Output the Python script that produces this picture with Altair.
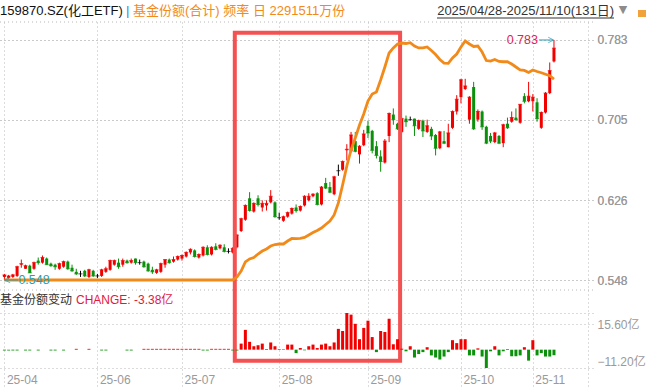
import altair as alt
import pandas as pd

# ---------------- text ----------------
STOCK = "159870.SZ(化工ETF)"
SERIES_TITLE = "基金份额(合计) 频率 日 2291511万份"
DATE_RANGE = "2025/04/28-2025/11/10(131日)"
CHANGE_TITLE = "基金份额变动"
CHANGE_TEXT = "CHANGE: -3.38亿"

# ---------------- data ----------------
opens = [0.551,0.550,0.551,0.552,0.563,0.559,0.562,0.559,0.567,0.565,
0.569,0.564,0.563,0.559,0.561,0.566,0.560,0.556,0.554,0.557,
0.551,0.557,0.552,0.552,0.556,0.558,0.563,0.565,0.563,0.567,
0.565,0.569,0.565,0.566,0.564,0.558,0.555,0.556,0.563,0.568,
0.566,0.568,0.569,0.571,0.575,0.577,0.570,0.572,0.580,0.573,
0.581,0.579,0.580,0.576,0.575,0.580,0.596,0.607,0.628,0.615,
0.628,0.619,0.621,0.624,0.624,0.609,0.606,0.610,0.613,0.619,
0.616,0.621,0.626,0.630,0.633,0.622,0.643,0.639,0.632,0.655,
0.656,0.675,0.674,0.684,0.671,0.680,0.699,0.694,0.679,0.669,
0.663,0.689,0.710,0.701,0.693,0.706,0.705,0.706,0.696,0.704,
0.693,0.696,0.690,0.677,0.684,0.678,0.697,0.713,0.727,0.735,
0.705,0.737,0.705,0.713,0.698,0.689,0.683,0.689,0.682,0.701,
0.703,0.707,0.702,0.728,0.723,0.723,0.722,0.697,0.712,0.731,
0.762]
highs = [0.554,0.553,0.554,0.562,0.568,0.563,0.563,0.566,0.570,0.572,
0.570,0.565,0.564,0.565,0.567,0.567,0.563,0.559,0.557,0.558,
0.559,0.558,0.554,0.559,0.561,0.568,0.568,0.569,0.569,0.568,
0.569,0.569,0.568,0.567,0.565,0.561,0.559,0.565,0.568,0.569,
0.571,0.572,0.573,0.576,0.579,0.578,0.574,0.581,0.582,0.581,
0.584,0.583,0.583,0.579,0.580,0.593,0.609,0.622,0.634,0.624,
0.631,0.626,0.626,0.636,0.625,0.614,0.611,0.615,0.619,0.622,
0.621,0.631,0.633,0.633,0.634,0.640,0.648,0.644,0.650,0.661,
0.665,0.681,0.693,0.693,0.680,0.695,0.704,0.695,0.684,0.675,
0.686,0.712,0.716,0.702,0.707,0.709,0.708,0.706,0.705,0.705,
0.705,0.698,0.691,0.694,0.694,0.701,0.714,0.729,0.745,0.745,
0.728,0.742,0.715,0.714,0.699,0.692,0.693,0.690,0.701,0.707,
0.713,0.716,0.720,0.731,0.742,0.730,0.726,0.713,0.732,0.761,
0.783]
lows = [0.548,0.549,0.550,0.551,0.560,0.559,0.555,0.558,0.563,0.564,
0.563,0.561,0.558,0.558,0.560,0.558,0.556,0.553,0.551,0.551,
0.550,0.551,0.550,0.551,0.555,0.557,0.562,0.559,0.561,0.564,
0.564,0.563,0.563,0.560,0.556,0.554,0.554,0.555,0.560,0.564,
0.565,0.567,0.567,0.570,0.573,0.570,0.569,0.571,0.572,0.572,
0.577,0.578,0.575,0.574,0.574,0.579,0.595,0.606,0.615,0.614,
0.620,0.615,0.616,0.623,0.609,0.607,0.605,0.609,0.612,0.614,
0.615,0.620,0.625,0.629,0.621,0.621,0.637,0.633,0.631,0.650,
0.655,0.665,0.673,0.673,0.662,0.679,0.687,0.672,0.667,0.654,
0.662,0.683,0.700,0.695,0.692,0.698,0.704,0.689,0.695,0.688,
0.692,0.685,0.670,0.676,0.681,0.678,0.696,0.710,0.721,0.734,
0.701,0.695,0.703,0.695,0.681,0.682,0.682,0.681,0.678,0.696,
0.702,0.704,0.701,0.721,0.722,0.713,0.703,0.696,0.711,0.730,
0.761]
closes = [0.553,0.552,0.553,0.561,0.564,0.562,0.555,0.565,0.565,0.570,
0.563,0.562,0.561,0.564,0.566,0.559,0.557,0.554,0.554,0.552,
0.558,0.552,0.552,0.558,0.559,0.567,0.567,0.561,0.567,0.565,
0.567,0.565,0.565,0.561,0.557,0.556,0.558,0.564,0.568,0.565,
0.568,0.571,0.572,0.575,0.578,0.571,0.573,0.580,0.573,0.580,
0.578,0.582,0.576,0.576,0.579,0.592,0.608,0.621,0.616,0.623,
0.622,0.623,0.623,0.630,0.610,0.609,0.610,0.614,0.618,0.616,
0.620,0.630,0.630,0.632,0.622,0.639,0.638,0.634,0.649,0.655,
0.664,0.676,0.690,0.674,0.679,0.691,0.692,0.675,0.670,0.664,
0.684,0.711,0.705,0.696,0.706,0.703,0.705,0.699,0.704,0.694,
0.699,0.689,0.677,0.693,0.682,0.692,0.713,0.725,0.744,0.738,
0.727,0.696,0.713,0.698,0.682,0.684,0.692,0.682,0.700,0.697,
0.707,0.705,0.720,0.723,0.728,0.727,0.706,0.712,0.731,0.753,
0.775]
# fund shares (万份)
shares = [265000,265000,265000,265000,265000,265000,265000,265000,265000,265000,
265000,265000,265000,265000,265000,265000,265000,265000,265000,265000,
265000,265000,265000,265000,265000,265000,265000,265000,265000,265000,
265000,265000,265000,265000,265000,265000,265000,265000,265000,265000,
265000,265000,265000,265000,265000,265000,265000,265000,265000,265000,
265000,265000,265000,265000,265000,295000,356000,447000,477000,492000,
527000,557000,578000,608000,623000,628000,628000,658000,684000,682000,
684000,694000,719000,744000,764000,789000,825000,860000,921000,1042000,
1223000,1415000,1576000,1697000,1828000,1939000,2070000,2141000,2161000,2282000,
2413000,2554000,2605000,2645000,2655000,2650000,2658000,2625000,2605000,2605000,
2615000,2580000,2539000,2489000,2453000,2450000,2504000,2544000,2615000,2675000,
2645000,2620000,2625000,2564000,2478000,2473000,2489000,2469000,2466000,2466000,
2443000,2413000,2383000,2378000,2358000,2383000,2368000,2355000,2340000,2325000,
2291511]
# daily change of fund shares (亿份)
changes = [-0.5,-0.5,-0.5,-0.5,0,-0.5,-0.5,0,-0.5,0,
0,-0.5,-0.5,0,-0.5,0,0,0.5,0,0,
0.5,0,0,-0.5,-0.5,0,0,0,0,-0.5,
-0.5,0,0,0.5,0.5,0.5,0.5,0.5,0.5,0.5,
0.5,0.5,0.5,0.5,0.5,0.5,0.5,-0.5,-0.5,0.5,
0.5,0.5,0.5,0.5,-0.5,-0.5,3.7,12.1,4.8,2.1,
2.7,3.7,0.4,4.4,2.1,0.4,0.3,3.1,3.1,-2.1,
1.0,-0.4,2.1,3.1,1.0,3.1,3.7,2.1,4.4,12.7,
11.4,22.4,21.4,15.8,6.4,13.3,17.7,7.7,-1.5,11.4,
10.8,18.9,3.3,6.4,0.6,-1.0,2.1,-4.8,-2.7,-1.5,
1.5,-3.5,-4.8,-6.0,-4.2,-1.5,5.8,4.0,6.4,6.4,
-3.5,-3.5,0.8,-4.2,-11.2,-1.0,2.1,-3.5,-1.0,0.4,
-4.0,-4.0,-3.5,1.5,-6.7,5.8,-3.5,-2.1,-4.2,-4.2,
-3.38]

month_idx = [0, 22, 42, 65, 86, 108, 125]
month_labels = ["25-04", "25-06", "25-07", "25-08", "25-09", "25-10", "25-11"]
price_ticks = [0.548, 0.626, 0.705, 0.783]
change_ticks = [22.4, 15.6, -11.2]
highlight = {"i0": 54.5, "i1": 93.6, "top": 0.790, "bottom": 0.469}

# ---------------- styling ----------------
FONT = "Liberation Sans, Noto Sans CJK SC"
RED = "#f20000"
GREEN = "#0a900a"
ORANGE = "#f28a1a"
GRID = "#b8b8b8"
LABEL = "#9a9a9a"
TEAL = "#2a9db5"
W, H = 593, 347
X_DOM = [0.14, 138.05]
P_DOM = [0.46086, 0.80062]
S_DOM = [-632565, 2866930]
C_DOM = [-11.81, 200.17]

n = len(closes)
candles = pd.DataFrame({"i": list(range(n)), "open": opens, "high": highs,
                        "low": lows, "close": closes})
line_df = pd.DataFrame({"i": list(range(n)), "share": shares})
chg_df = pd.DataFrame({"i": list(range(n)), "chg": changes})

lab_expr = " : ".join(f"datum.value == {k} ? '{v}'" for k, v in zip(month_idx, month_labels)) + " : ''"
x_axis = alt.Axis(values=month_idx + [X_DOM[1]], labelExpr=lab_expr, grid=True,
                  gridDash=[1, 3], gridColor=GRID, domain=False, ticks=True,
                  tickSize=20, tickDash=[1, 3], tickColor=GRID, labelAlign="left",
                  labelOffset=2, labelPadding=-15, labelOverlap=False, labelFlush=False,
                  labelColor=LABEL, labelFont=FONT, labelFontSize=12, title=None)
xs = alt.Scale(domain=X_DOM, nice=False, zero=False)
X = alt.X("i:Q", scale=xs, axis=x_axis)

price_axis = alt.Axis(orient="right", values=price_ticks, format=".3f", grid=True,
                      gridDash=[1, 3], gridColor=GRID, domain=False, ticks=False,
                      labelPadding=4, labelColor=LABEL, labelFont=FONT,
                      labelFontSize=12, title=None)
ps = alt.Scale(domain=P_DOM, nice=False, zero=False)

color = alt.Color("dir:N", scale=alt.Scale(domain=["up", "down", "flat"],
                                           range=[RED, GREEN, "#000000"]), legend=None)
dir_expr = "datum.close > datum.open ? 'up' : (datum.close < datum.open ? 'down' : 'flat')"

cbase = alt.Chart(candles).transform_calculate(dir=dir_expr)
wicks = cbase.mark_rule(strokeWidth=1, clip=True).encode(
    x=X, y=alt.Y("low:Q", scale=ps, axis=price_axis), y2="high:Q", color=color)
bodies = cbase.mark_bar(size=3, clip=True).encode(
    x=X, y=alt.Y("open:Q", scale=ps, axis=price_axis), y2="close:Q", color=color)
ctick = cbase.mark_tick(orient="horizontal", size=4, thickness=1, clip=True).encode(
    x=X, y=alt.Y("close:Q", scale=ps, axis=price_axis), color=color)

hl = pd.DataFrame([highlight])
hl_rect = alt.Chart(hl).mark_rect(fillOpacity=0, stroke="#f45252", strokeWidth=4).encode(
    x=alt.X("i0:Q", scale=xs, axis=x_axis), x2="i1:Q",
    y=alt.Y("top:Q", scale=ps, axis=price_axis), y2="bottom:Q")

price_group = alt.layer(wicks, bodies, ctick, hl_rect)

# min / max markers (drawn above the share line)
i_min = min(range(n), key=lambda k: lows[k])
i_max = max(range(n), key=lambda k: highs[k])
mn = pd.DataFrame({"i": [i_min], "p": [lows[i_min]], "t": [f"{lows[i_min]:.3f}"]})
mx = pd.DataFrame({"i": [i_max], "p": [highs[i_max]], "t": [f"{highs[i_max]:.3f}"]})
Yp = alt.Y("p:Q", scale=ps, axis=price_axis)
min_rule = alt.Chart(mn).mark_rule(color=TEAL, strokeWidth=1, x2Offset=14).encode(x=X, x2="i:Q", y=Yp)
min_head = alt.Chart(mn).mark_point(shape="M1,-1L-1,0L1,1", filled=False, color=TEAL,
                                    size=30, strokeWidth=1, xOffset=3).encode(x=X, y=Yp)
min_text = alt.Chart(mn).mark_text(align="left", baseline="middle", dx=14, color=TEAL,
                                   font=FONT, fontSize=12.5).encode(x=X, y=Yp, text="t:N")
max_rule = alt.Chart(mx).mark_rule(color=TEAL, strokeWidth=1, xOffset=-15, x2Offset=-1).encode(x=X, x2="i:Q", y=Yp)
max_head = alt.Chart(mx).mark_point(shape="M-1,-1L1,0L-1,1", filled=False, color=TEAL,
                                    size=30, strokeWidth=1, xOffset=-3).encode(x=X, y=Yp)
max_text = alt.Chart(mx).mark_text(align="right", baseline="middle", dx=-16, color="#e2234f",
                                   font=FONT, fontSize=12.5).encode(x=X, y=Yp, text="t:N")
marker_group = alt.layer(min_rule, min_head, min_text, max_rule, max_head, max_text)

share_line = alt.Chart(line_df).mark_line(color=ORANGE, strokeWidth=2.8, clip=True).encode(
    x=X, y=alt.Y("share:Q", scale=alt.Scale(domain=S_DOM, nice=False, zero=False), axis=None))

chg_axis = alt.Axis(orient="right", values=change_ticks,
                    labelExpr="datum.value > 20 ? '' : format(datum.value, '.2f') + '亿'",
                    labelBaseline={"condition": {"test": "datum.value < 0", "value": "bottom"},
                                   "value": "middle"},
                    grid=True, gridDash=[1, 3], gridColor=GRID, domain=False, ticks=False,
                    labelPadding=4, labelColor=LABEL, labelFont=FONT, labelFontSize=12, title=None)
chg_bars = alt.Chart(chg_df).transform_calculate(
    dir="datum.chg > 0 ? 'up' : (datum.chg < 0 ? 'down' : 'flat')"
).mark_bar(size=3, clip=True).encode(
    x=X, y=alt.Y("chg:Q", scale=alt.Scale(domain=C_DOM, nice=False, zero=False), axis=chg_axis),
    y2=alt.datum(0), color=color)

def txt(s, x, y, color, size=13, align="left", font=FONT):
    return alt.Chart(pd.DataFrame({"t": [s]})).mark_text(
        align=align, baseline="middle", color=color, font=font, fontSize=size
    ).encode(x=alt.value(x), y=alt.value(y), text="t:N")

one = pd.DataFrame({"k": [0]})
top_rule = alt.Chart(one).mark_rule(color=GRID, strokeDash=[1, 3]).encode(
    x=alt.value(0), x2=alt.value(W), y=alt.value(0))
sep_rule = alt.Chart(one).mark_rule(color=GRID, strokeDash=[1, 3]).encode(
    x=alt.value(0), x2=alt.value(W), y=alt.value(268))
underline = alt.Chart(one).mark_rule(color="#333333", strokeWidth=1).encode(
    x=alt.value(437), x2=alt.value(614), y=alt.value(-4))
lock = alt.Chart(one).mark_rect(color="#f2a23a").encode(
    x=alt.value(638), x2=alt.value(646), y=alt.value(-12), y2=alt.value(-5))

texts = [
    txt(STOCK, 0, -11, "#111111"),
    txt("|", 126, -11, "#2f86d6"),
    txt(SERIES_TITLE, 133, -11, ORANGE),
    txt(DATE_RANGE, 614, -11, "#333333", align="right"),
    txt("▼", 623, -12, "#8c8c8c", size=11, align="center", font="DejaVu Sans"),
    txt(CHANGE_TITLE, 0, 278, "#333333", size=12),
    txt(CHANGE_TEXT, 76, 278, "#e3173e", size=12),
]

chart = alt.layer(
    top_rule, sep_rule, price_group, share_line, marker_group, chg_bars, underline, lock, *texts
).resolve_scale(y="independent").properties(
    width=W, height=H,
    padding={"left": 0, "top": 22, "right": 54, "bottom": 20},
    autosize=alt.AutoSizeParams(type="none"),
).configure_view(stroke=None)

chart.save("out.html", embed_options={"renderer": "svg", "actions": False})
